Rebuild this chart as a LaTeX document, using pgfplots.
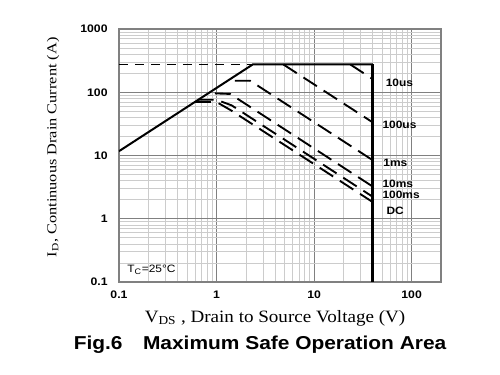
\documentclass[border=0pt]{standalone}
\usepackage{fontspec}
\setmainfont{Liberation Serif}
\newfontfamily\serifx[FakeStretch=1.1]{Liberation Serif}
\newfontfamily\serify[FakeStretch=1.2]{Liberation Serif}
\newfontfamily\arialx[FakeStretch=1.12]{Liberation Sans}
\usepackage{pgfplots}
\pgfplotsset{compat=1.18}

\begin{document}
\begin{tikzpicture}
\path[use as bounding box] (-89.25pt,-69.75pt) rectangle (285.75pt,211.5pt);
\begin{axis}[
  at={(0,0)}, anchor=south west,
  xmode=log, ymode=log,
  scale only axis, width=241.5pt, height=189.75pt,
  xmin=0.1, xmax=200, ymin=0.1, ymax=1000,
  xtick={0.1,1,10,100}, xticklabels={0.1,1,10,100},
  ytick={0.1,1,10,100,1000}, yticklabels={0.1,1,10,100,1000},
  minor xtick={0.2,0.3,0.4,0.5,0.6,0.7,0.8,0.9,2,3,4,5,6,7,8,9,20,30,40,50,60,70,80,90},
  minor ytick={0.2,0.3,0.4,0.5,0.6,0.7,0.8,0.9,2,3,4,5,6,7,8,9,20,30,40,50,60,70,80,90,200,300,400,500,600,700,800,900},
  grid=both,
  major grid style={black!50, line width=0.7pt},
  minor grid style={black!20, line width=0.5pt},
  major tick length=0pt, minor tick length=0pt,
  axis line style={black!50, line width=1pt},
  /pgf/number format/assume math mode=true,
  tick label style={font=\arialx\bfseries\fontsize{8.2}{9}\selectfont},
  xticklabel style={yshift=-3pt},
  yticklabel style={xshift=-5pt},
  xlabel={V\textsubscript{DS} , Drain to Source Voltage (V)},
  xlabel style={at={(axis description cs:0.4845,0)}, anchor=center, yshift=-27pt,
    font=\serifx\fontsize{13}{14}\selectfont},
  ylabel={I\textsubscript{D}, Continuous Drain Current (A)},
  ylabel style={at={(axis description cs:-0.205,0.532)}, anchor=center,
    font=\serify\fontsize{10.2}{11}\selectfont},
  title={Fig.6\hspace{1.1em}Maximum Safe Operation Area},
  title style={at={(axis description cs:0.438,0)}, anchor=center, yshift=-53.25pt,
    font=\arialx\bfseries\fontsize{14}{16}\selectfont},
]
% operation limit (solid)
\addplot[black, line width=1.5pt] coordinates {(0.1,11.7) (2.35,275) (40,275)};
\addplot[black, line width=2pt] coordinates {(40,275) (40,0.1)};
% current limit extension (dashed)
\addplot[black, line width=1.4pt, dash pattern=on 7pt off 5pt] coordinates {(0.1,275) (2.35,275)};
% pulse lines
\addplot[black, line width=1.4pt, dash pattern=on 12pt off 6pt] coordinates {(23.5,275) (40,161)};
\addplot[black, line width=1.4pt, dash pattern=on 12pt off 6pt] coordinates {(4.84,275) (40,33.3)};
\addplot[black, line width=1.4pt, dash pattern=on 12pt off 6pt] coordinates {(1.54,152) (2.21,152) (40,8.4)};
\addplot[black, line width=1.4pt, dash pattern=on 12pt off 6pt] coordinates {(0.96,96) (1.38,94) (40,3.22)};
\addplot[black, line width=1.4pt, dash pattern=on 12pt off 6pt] coordinates {(0.64,76) (1.0,76) (1.43,62) (40,2.22)};
\addplot[black, line width=1.4pt, dash pattern=on 12pt off 6pt] coordinates {(0.6,70) (1.0,70) (1.4,52) (40,1.83)};
% labels
\begin{scope}[every node/.style={anchor=west, inner sep=0pt, font=\arialx\bfseries\fontsize{8}{9}\selectfont}]
\node at (axis cs:54,140) {10us};
\node at (axis cs:50,30.3) {100us};
\node at (axis cs:51,7.6) {1ms};
\node at (axis cs:50,3.54) {10ms};
\node at (axis cs:50,2.38) {100ms};
\node at (axis cs:55,1.32) {DC};
\end{scope}
\node[anchor=west, inner sep=0pt, font=\arialx\fontsize{8}{9}\selectfont] at (axis cs:0.121,0.155) {T\textsubscript{C}=25\textdegree C};
\end{axis}
\end{tikzpicture}
\end{document}
